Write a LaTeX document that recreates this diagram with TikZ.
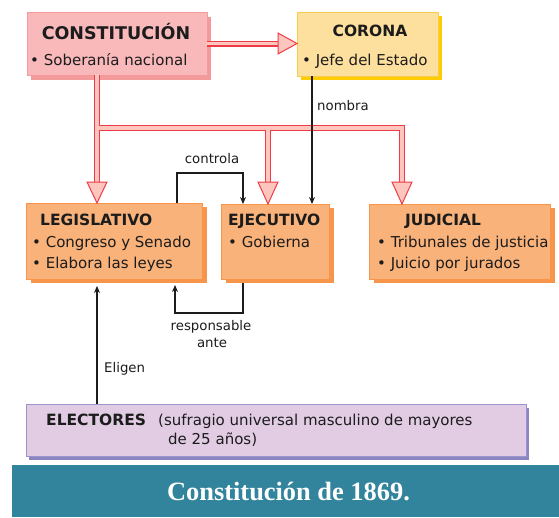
\documentclass[tikz,border=0pt]{standalone}
\usepackage{fontspec}
\setmainfont{DejaVu Sans}
\newfontfamily\titlefont{Liberation Serif}
\usetikzlibrary{arrows.meta,shadows}
\definecolor{pinkL}{HTML}{F9B8BA}
\definecolor{pinkD}{HTML}{F49A9C}
\definecolor{goldL}{HTML}{FDE09E}
\definecolor{goldD}{HTML}{FFCC00}
\definecolor{goldB}{HTML}{F5CC50}
\definecolor{oraL}{HTML}{F9B27A}
\definecolor{oraD}{HTML}{F7964A}
\definecolor{lavL}{HTML}{E2CCE4}
\definecolor{lavD}{HTML}{8A86C2}
\definecolor{lavB}{HTML}{9C94CE}
\definecolor{teal}{HTML}{31849B}
\definecolor{arrR}{HTML}{EE3B45}
\definecolor{arrF}{HTML}{FCC5BE}
\definecolor{ink}{HTML}{1C1C1C}
\tikzset{
  boxnode/.style={rectangle,inner sep=0pt,outer sep=0pt,line width=1pt,anchor=north west},
  pinkbox/.style={boxnode,fill=pinkL,draw=pinkD,drop shadow={shadow xshift=4pt,shadow yshift=-5pt,fill=pinkD,opacity=1}},
  goldbox/.style={boxnode,fill=goldL,draw=goldB,drop shadow={shadow xshift=4pt,shadow yshift=-4pt,fill=goldD,opacity=1}},
  orabox/.style={boxnode,fill=oraL,draw=oraD,drop shadow={shadow xshift=5pt,shadow yshift=-4pt,fill=oraD,opacity=1}},
  lavbox/.style={boxnode,fill=lavL,draw=lavB,drop shadow={shadow xshift=3pt,shadow yshift=-4pt,fill=lavD,opacity=1}},
  ttl/.style={inner sep=0pt,font=\fontsize{15.5}{18}\selectfont\bfseries,text=ink},
  txt/.style={inner sep=0pt,anchor=base west,font=\fontsize{15}{18}\selectfont,text=ink},
  lbl/.style={inner sep=0pt,font=\fontsize{13.3}{16}\selectfont,text=ink},
  blk/.style={draw=ink,line width=1.1pt,-{Stealth[length=7pt,width=6pt]}},
  outerR/.style={draw=arrR,line width=6pt},
  innerR/.style={draw=arrF,line width=3.6pt},
  headR/.style={fill=arrF,draw=arrR,line width=1pt,line join=miter},
}
\begin{document}
\begin{tikzpicture}[x=1pt,y=-1pt]
\useasboundingbox (0,0) rectangle (559,517);
% boxes
\node[pinkbox,minimum width=180pt,minimum height=63pt] (constit) at (27,12) {};
\node[goldbox,minimum width=141pt,minimum height=64pt] (corona) at (297,12) {};
\node[orabox,minimum width=176pt,minimum height=76pt] (legis) at (26,203) {};
\node[orabox,minimum width=108pt,minimum height=75pt] (ejec) at (221,204) {};
\node[orabox,minimum width=181pt,minimum height=75pt] (judic) at (369,204) {};
\node[lavbox,minimum width=500pt,minimum height=52pt] (elect) at (26,404) {};
\node[boxnode,fill=teal,minimum width=547pt,minimum height=52pt] (band) at (12,465) {};
% texts
\node[ttl,anchor=base,font=\fontsize{17.5}{20}\selectfont\bfseries] (tconst) at (116,39) {CONSTITUCIÓN};
\node[txt] (tconst1) at (30,65) {\textbullet\ Soberanía nacional};
\node[ttl,anchor=base] (tcor) at (370,36) {CORONA};
\node[txt] (tcor1) at (302,65) {\textbullet\ Jefe del Estado};
\node[ttl,anchor=base west] (tleg) at (40,225) {LEGISLATIVO};
\node[txt] (tleg1) at (32,247) {\textbullet\ Congreso y Senado};
\node[txt] (tleg2) at (32,268) {\textbullet\ Elabora las leyes};
\node[ttl,anchor=base west] (teje) at (228,225) {EJECUTIVO};
\node[txt] (teje1) at (228,247) {\textbullet\ Gobierna};
\node[ttl,anchor=base] (tjud) at (443,225) {JUDICIAL};
\node[txt] (tjud1) at (377,247) {\textbullet\ Tribunales de justicia};
\node[txt] (tjud2) at (377,268) {\textbullet\ Juicio por jurados};
\node[ttl,anchor=base west] (tele) at (46,425) {ELECTORES};
\node[txt] (tele1) at (158,425) {(sufragio universal masculino de mayores};
\node[txt] (tele2) at (168,444) {de 25 años)};
\node[inner sep=0pt,anchor=base,text=white,font=\titlefont\fontsize{26.4}{30}\selectfont\bfseries] (tband) at (288.5,500) {Constitución de 1869.};
% red hollow arrows
\coordinate (j1) at (97,128);
\coordinate (j2) at (268,128);
\coordinate (j3) at (402,128);
\coordinate (hl) at (97,182);
\coordinate (he) at (268,182);
\coordinate (hj) at (402,182);
\coordinate (hc) at (278,43.5);
\path[outerR] (constit.east |- hc) -- (hc);
\path[outerR] (constit.south -| j1) -- (hl);
\path[outerR] (j1) -- (j3) -- (hj);
\path[outerR] (j2) -- (he);
\path[innerR] (constit.east |- hc) ++(-1,0) -- (hc);
\path[innerR] (constit.south -| j1) ++(0,-1) -- (hl);
\path[innerR] (j1) -- (j3) -- (hj);
\path[innerR] (j2) -- (he);
\path[headR] (hl) ++(-10,0) -- ++(20,0) -- (legis.north -| hl) -- cycle;
\path[headR] (he) ++(-10,0) -- ++(20,0) -- (ejec.north -| he) -- cycle;
\path[headR] (hj) ++(-10,0) -- ++(20,0) -- (judic.north -| hj) -- cycle;
\path[headR] (hc) ++(0,-10.5) -- ++(0,21) -- (corona.west |- hc) -- cycle;
% black connectors
\coordinate (nb) at (312,0);
\draw[blk] (corona.south -| nb) -- (ejec.north -| nb);
\node[lbl,anchor=base west] (lnom) at (317,110) {nombra};
\coordinate (c1) at (177,173);
\coordinate (c2) at (243,173);
\draw[blk] (legis.north -| c1) -- (c1) -- (c2) -- (ejec.north -| c2);
\node[lbl,anchor=base] (lctl) at (212,163) {controla};
\coordinate (r0) at (243,283);
\coordinate (r1) at (243,313);
\coordinate (r2) at (175,313);
\coordinate (r3) at (175,285);
\draw[blk] (r0) -- (r1) -- (r2) -- (r3);
\node[lbl,anchor=base] (lres) at (211,330) {responsable};
\node[lbl,anchor=base] (lante) at (212,347) {ante};
\coordinate (e1) at (97,286);
\draw[blk] (elect.north -| e1) -- (e1);
\node[lbl,anchor=base west] (leli) at (104,372) {Eligen};
\end{tikzpicture}
\end{document}
